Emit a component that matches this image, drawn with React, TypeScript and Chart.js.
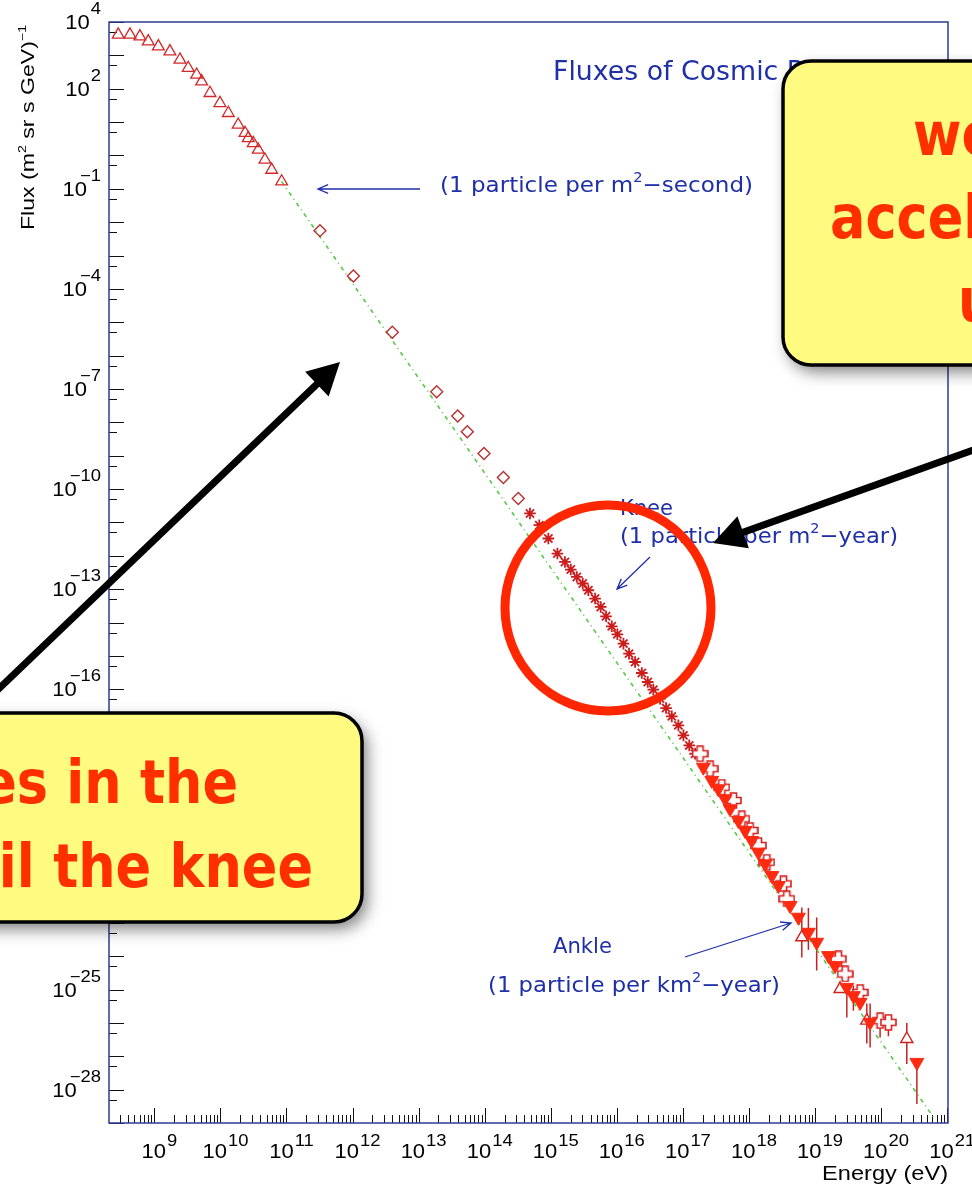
import React, { useEffect, useRef } from 'react';
import { Chart, registerables } from 'chart.js';

Chart.register(...registerables);

// ---- Spectrum data: energy (eV) and flux (m^2 sr s GeV)^-1 ----

// Direct measurements at low energy (open triangles)
const lowEnergyE = [2.84e8, 4.28e8, 6.05e8, 8.09e8, 1.15e9, 1.72e9, 2.44e9, 3.26e9, 4.37e9, 5.2e9, 6.95e9, 9.84e9, 1.32e10, 1.86e10, 2.36e10, 2.64e10, 3.14e10, 3.74e10, 4.72e10, 5.97e10, 8.45e10];
const lowEnergyFlux = [4.16e3, 4.16e3, 3.7e3, 2.62e3, 1.85e3, 1.31e3, 740, 417, 262, 165, 74, 37, 18.6, 8.3, 4.7, 3.3, 2.34, 1.48, 0.74, 0.37, 0.165];

// Balloon / satellite points (open diamonds)
const balloonE = [3.21e11, 1.03e12, 4.0e12, 1.88e13, 3.91e13, 5.46e13, 9.77e13, 1.92e14, 3.23e14];
const balloonFlux = [5.58e-3, 2.44e-4, 5.0e-6, 8.26e-8, 1.54e-8, 5.21e-9, 1.17e-9, 2.23e-10, 5.24e-11];

// Air-shower array around the knee (asterisks)
const kneeE = [4.85e14, 6.71e14, 9.2e14, 1.26e15, 1.64e15, 2.01e15, 2.48e15, 3.05e15, 3.71e15, 4.69e15, 5.71e15, 6.87e15, 8.39e15, 1.02e16, 1.26e16, 1.53e16, 1.89e16, 2.39e16, 2.94e16, 3.57e16, 4.52e16, 5.57e16, 6.79e16, 8.55e16, 1.02e17, 1.25e17, 1.53e17];
const kneeFlux = [1.86e-11, 8.28e-12, 3.3e-12, 1.17e-12, 6.56e-13, 3.88e-13, 2.33e-13, 1.48e-13, 9.29e-14, 5.24e-14, 2.93e-14, 1.54e-14, 7.73e-15, 4.45e-15, 2.34e-15, 1.17e-15, 6.56e-16, 3.07e-16, 1.65e-16, 9.75e-17, 5.24e-17, 2.74e-17, 1.54e-17, 8.28e-18, 4.15e-18, 2.08e-18, 1.17e-18];

// Ground array at the highest energies (filled triangles) with flux errors
const groundE = [2.04e17, 2.74e17, 3.44e17, 4.36e17, 5.18e17, 6.92e17, 8.75e17, 1.1e18, 1.39e18, 1.76e18, 2.22e18, 2.79e18, 4.2e18, 5.61e18, 7.94e18, 1.06e19, 1.6e19, 2.01e19, 3.03e19, 3.81e19, 4.82e19, 6.82e19, 3.48e20];
const groundFlux = [4.63e-19, 1.85e-19, 1.04e-19, 5.22e-20, 2.62e-20, 1.17e-20, 5.85e-21, 2.93e-21, 1.31e-21, 5.86e-22, 2.61e-22, 1.31e-22, 3.29e-23, 1.47e-23, 5.2e-24, 2.61e-24, 1.04e-24, 5.21e-25, 1.16e-25, 6.56e-26, 4.13e-26, 1.04e-26, 6.55e-28];
const groundFluxHi = [null, null, null, null, null, null, null, null, null, null, null, null, null, null, 2.8e-23, 1.45e-23, null, null, 7.59e-26, 1.32e-25, null, 3.8e-26, 8.5e-28];
const groundFluxLo = [null, null, null, null, null, null, null, null, null, null, null, null, null, null, 1.55e-24, 3.72e-25, null, null, 1.45e-26, 2.34e-26, null, 1.82e-27, 3.7e-29];

// Fluorescence detector (open crosses)
const fluorE = [1.82e17, 2.58e17, 3.88e17, 5.82e17, 7.8e17, 1.04e18, 1.39e18, 1.86e18, 3.33e18, 3.74e18, 2.26e19, 2.86e19, 4.82e19, 9.66e19, 1.29e20];
const fluorFlux = [1.17e-18, 4.15e-19, 1.16e-19, 4.65e-20, 1.31e-20, 5.85e-21, 2.07e-21, 6.55e-22, 1.47e-22, 5.22e-23, 8.26e-25, 2.93e-25, 8.22e-26, 1.17e-26, 1.04e-26];
const fluorFluxHi = [null, null, null, null, null, null, null, null, null, null, null, null, null, 1.9e-26, 1.78e-26];
const fluorFluxLo = [null, null, null, null, null, null, null, null, null, null, null, null, null, 3.63e-27, 3.98e-27];

// Highest-energy events (open triangles) with flux errors
const topE = [6.31e18, 2.4e19, 6.08e19, 2.45e20];
const topFlux = [3.68e-24, 1.04e-25, 1.17e-26, 3.29e-27];
const topFluxHi = [2.88e-23, null, 3.8e-26, 1.0e-26];
const topFluxLo = [9.1e-25, null, 2.4e-27, 5.9e-28];

// Reference power law E^-2.84
const powerLawE = [8.45e10, 6.5e20];
const powerLawFlux = [0.165, 1.3e-29];

// Axis labels (powers of ten)
const xLabelExps = [9, 10, 11, 12, 13, 14, 15, 16, 17, 18, 19, 20, 21];
const yLabelExps = [4, 2, -1, -4, -7, -10, -13, -16, -19, -22, -25, -28];

const AXIS_FONT = '"Liberation Sans", Arial, sans-serif';
const NOTE_FONT = '"DejaVu Sans", sans-serif';
const BOX_FONT = '"Comic Sans MS", "DejaVu Sans", sans-serif';
const NOTE_BLUE = '#1f2fa8';
const FRAME_BLUE = '#2f3d92';

type Seg = { t: string; sup?: boolean };

function pts(xs: number[], ys: number[]) {
  return xs.map((x, i) => ({ x, y: ys[i] }));
}

function expText(n: number) {
  return n < 0 ? '\u2212' + Math.abs(n) : String(n);
}

// Draw a run of text with optional superscripts, squeezed to a given width
function drawRich(
  ctx: CanvasRenderingContext2D,
  segs: Seg[],
  x: number,
  y: number,
  size: number,
  family: string,
  color: string,
  targetW?: number,
  align: 'left' | 'right' = 'left',
) {
  const supSize = Math.round(size * 0.62);
  const widths = segs.map((s) => {
    ctx.font = `${s.sup ? supSize : size}px ${family}`;
    return ctx.measureText(s.t).width;
  });
  const natural = widths.reduce((a, b) => a + b, 0);
  const sx = targetW ? targetW / natural : 1;
  const x0 = align === 'right' ? x - natural * sx : x;
  ctx.save();
  ctx.translate(x0, y);
  ctx.scale(sx, 1);
  ctx.fillStyle = color;
  ctx.textBaseline = 'alphabetic';
  ctx.textAlign = 'left';
  let cx = 0;
  segs.forEach((s, i) => {
    ctx.font = `${s.sup ? supSize : size}px ${family}`;
    ctx.fillText(s.t, cx, s.sup ? -size * 0.45 : 0);
    cx += widths[i];
  });
  ctx.restore();
}

function openArrow(ctx: CanvasRenderingContext2D, x1: number, y1: number, x2: number, y2: number, color: string) {
  const a = Math.atan2(y2 - y1, x2 - x1);
  const h = 11;
  ctx.save();
  ctx.strokeStyle = color;
  ctx.lineWidth = 1.3;
  ctx.beginPath();
  ctx.moveTo(x1, y1);
  ctx.lineTo(x2, y2);
  ctx.moveTo(x2 - h * Math.cos(a - 0.4), y2 - h * Math.sin(a - 0.4));
  ctx.lineTo(x2, y2);
  ctx.lineTo(x2 - h * Math.cos(a + 0.4), y2 - h * Math.sin(a + 0.4));
  ctx.stroke();
  ctx.restore();
}

function bigArrow(ctx: CanvasRenderingContext2D, x1: number, y1: number, x2: number, y2: number) {
  const a = Math.atan2(y2 - y1, x2 - x1);
  const len = 32;
  const half = 17;
  const bx = x2 - len * Math.cos(a);
  const by = y2 - len * Math.sin(a);
  ctx.save();
  ctx.strokeStyle = '#000';
  ctx.fillStyle = '#000';
  ctx.lineWidth = 7;
  ctx.beginPath();
  ctx.moveTo(x1, y1);
  ctx.lineTo(bx + 4 * Math.cos(a), by + 4 * Math.sin(a));
  ctx.stroke();
  ctx.beginPath();
  ctx.moveTo(x2, y2);
  ctx.lineTo(bx + half * Math.sin(a), by - half * Math.cos(a));
  ctx.lineTo(bx - half * Math.sin(a), by + half * Math.cos(a));
  ctx.closePath();
  ctx.fill();
  ctx.restore();
}

function roundBox(ctx: CanvasRenderingContext2D, x: number, y: number, w: number, h: number, r: number) {
  ctx.beginPath();
  ctx.moveTo(x + r, y);
  ctx.lineTo(x + w - r, y);
  ctx.arcTo(x + w, y, x + w, y + r, r);
  ctx.lineTo(x + w, y + h - r);
  ctx.arcTo(x + w, y + h, x + w - r, y + h, r);
  ctx.lineTo(x + r, y + h);
  ctx.arcTo(x, y + h, x, y + h - r, r);
  ctx.lineTo(x, y + r);
  ctx.arcTo(x, y, x + r, y, r);
  ctx.closePath();
}

function noteBox(ctx: CanvasRenderingContext2D, x: number, y: number, w: number, h: number) {
  ctx.save();
  roundBox(ctx, x, y, w, h, 28);
  ctx.shadowColor = 'rgba(0,0,0,0.5)';
  ctx.shadowBlur = 16;
  ctx.shadowOffsetX = 5;
  ctx.shadowOffsetY = 7;
  ctx.fillStyle = '#fffb80';
  ctx.fill();
  ctx.shadowColor = 'transparent';
  ctx.lineWidth = 3.5;
  ctx.strokeStyle = '#000';
  ctx.stroke();
  ctx.restore();
}

function boxText(ctx: CanvasRenderingContext2D, t: string, x: number, y: number, align: 'left' | 'right') {
  ctx.save();
  ctx.translate(x, y);
  ctx.scale(1.05, 1.2);
  ctx.font = `bold 50px ${BOX_FONT}`;
  ctx.fillStyle = '#ff2f00';
  ctx.textAlign = align;
  ctx.textBaseline = 'alphabetic';
  ctx.fillText(t, 0, 0);
  ctx.restore();
}

function makeOpenCross(size: number, color: string) {
  const c = document.createElement('canvas');
  c.width = size;
  c.height = size;
  const g = c.getContext('2d')!;
  const m = size / 2;
  const e = size / 2 - 1;
  const a = size * 0.18;
  g.beginPath();
  g.moveTo(m - a, m - e);
  g.lineTo(m + a, m - e);
  g.lineTo(m + a, m - a);
  g.lineTo(m + e, m - a);
  g.lineTo(m + e, m + a);
  g.lineTo(m + a, m + a);
  g.lineTo(m + a, m + e);
  g.lineTo(m - a, m + e);
  g.lineTo(m - a, m + a);
  g.lineTo(m - e, m + a);
  g.lineTo(m - e, m - a);
  g.lineTo(m - a, m - a);
  g.closePath();
  g.fillStyle = '#ffffff';
  g.fill();
  g.strokeStyle = color;
  g.lineWidth = 1.6;
  g.stroke();
  return c;
}

const errorSets: { label: string; hi: (number | null)[]; lo: (number | null)[] }[] = [
  { label: 'ground', hi: groundFluxHi, lo: groundFluxLo },
  { label: 'fluor', hi: fluorFluxHi, lo: fluorFluxLo },
  { label: 'top', hi: topFluxHi, lo: topFluxLo },
];

const paperPlugin = {
  id: 'paper',
  beforeDraw(chart: any) {
    const ctx = chart.ctx as CanvasRenderingContext2D;
    ctx.save();
    ctx.fillStyle = '#ffffff';
    ctx.fillRect(0, 0, chart.width, chart.height);
    ctx.restore();
  },
};

const errorBarPlugin = {
  id: 'errorBars',
  beforeDatasetsDraw(chart: any) {
    const ctx = chart.ctx as CanvasRenderingContext2D;
    const xs = chart.scales.x;
    const ys = chart.scales.y;
    const area = chart.chartArea;
    ctx.save();
    ctx.beginPath();
    ctx.rect(area.left, area.top, area.right - area.left, area.bottom - area.top);
    ctx.clip();
    ctx.strokeStyle = '#c42222';
    ctx.lineWidth = 1.5;
    chart.data.datasets.forEach((ds: any) => {
      const es = errorSets.find((e) => e.label === ds.label);
      if (!es) return;
      ds.data.forEach((p: any, i: number) => {
        const hi = es.hi[i];
        const lo = es.lo[i];
        if (hi == null || lo == null) return;
        const px = xs.getPixelForValue(p.x);
        ctx.beginPath();
        ctx.moveTo(px, ys.getPixelForValue(hi));
        ctx.lineTo(px, ys.getPixelForValue(lo));
        ctx.stroke();
      });
    });
    ctx.restore();
  },
};

const axisPlugin = {
  id: 'rootAxes',
  beforeDatasetsDraw(chart: any) {
    const ctx = chart.ctx as CanvasRenderingContext2D;
    const xs = chart.scales.x;
    const ys = chart.scales.y;
    const { left, right, top, bottom } = chart.chartArea;
    ctx.save();
    // ticks pointing into the frame
    ctx.strokeStyle = '#111';
    ctx.lineWidth = 1;
    ctx.beginPath();
    for (let d = -29; d <= 4; d++) {
      const py = Math.round(ys.getPixelForValue(Math.pow(10, d))) + 0.5;
      ctx.moveTo(left, py);
      ctx.lineTo(left + 15, py);
      const v5 = 5 * Math.pow(10, d);
      if (v5 < 1e4) {
        const pm = Math.round(ys.getPixelForValue(v5)) + 0.5;
        ctx.moveTo(left, pm);
        ctx.lineTo(left + 8, pm);
      }
    }
    for (let d = 8; d <= 21; d++) {
      for (let k = 1; k <= 9; k++) {
        const v = k * Math.pow(10, d);
        if (v < xs.min || v > xs.max * 1.001) continue;
        const px = Math.round(xs.getPixelForValue(v)) + 0.5;
        ctx.moveTo(px, bottom);
        ctx.lineTo(px, bottom - (k === 1 ? 15 : 8));
      }
    }
    ctx.stroke();
    // frame
    ctx.strokeStyle = FRAME_BLUE;
    ctx.lineWidth = 1.5;
    ctx.strokeRect(left, top, right - left, bottom - top);

    // y labels
    ctx.fillStyle = '#000';
    ctx.textBaseline = 'alphabetic';
    ctx.textAlign = 'left';
    yLabelExps.forEach((n) => {
      const py = ys.getPixelForValue(Math.pow(10, n));
      const et = expText(n);
      ctx.font = `16px ${AXIS_FONT}`;
      const ew = ctx.measureText(et).width * 1.15;
      const expLeft = 101 - ew;
      ctx.save();
      ctx.translate(expLeft, py - 8);
      ctx.scale(1.15, 1);
      ctx.fillText(et, 0, 0);
      ctx.restore();
      ctx.font = `20px ${AXIS_FONT}`;
      const tw = ctx.measureText('10').width * 1.1;
      const tenRight = expLeft + (n < 0 ? 7 : -1);
      ctx.save();
      ctx.translate(tenRight - tw, py + 7);
      ctx.scale(1.1, 1);
      ctx.fillText('10', 0, 0);
      ctx.restore();
    });

    // x labels
    xLabelExps.forEach((n) => {
      const px = xs.getPixelForValue(Math.pow(10, n));
      const et = String(n);
      ctx.font = `20px ${AXIS_FONT}`;
      const tw = ctx.measureText('10').width * 1.1;
      ctx.font = `16px ${AXIS_FONT}`;
      const ew = ctx.measureText(et).width * 1.15;
      const total = tw + 1 + ew;
      const l = px + 5 - total / 2;
      ctx.save();
      ctx.font = `20px ${AXIS_FONT}`;
      ctx.translate(l, 1158);
      ctx.scale(1.1, 1);
      ctx.fillText('10', 0, 0);
      ctx.restore();
      ctx.save();
      ctx.font = `16px ${AXIS_FONT}`;
      ctx.translate(l + tw + 1, 1146);
      ctx.scale(1.15, 1);
      ctx.fillText(et, 0, 0);
      ctx.restore();
    });

    // axis titles
    drawRich(ctx, [{ t: 'Energy (eV)' }], right, 1180, 20, AXIS_FONT, '#000', 126, 'right');
    ctx.save();
    ctx.translate(34, 230);
    ctx.rotate(-Math.PI / 2);
    drawRich(
      ctx,
      [{ t: 'Flux (m' }, { t: '2', sup: true }, { t: ' sr s GeV)' }, { t: '\u22121', sup: true }],
      0,
      0,
      18,
      AXIS_FONT,
      '#000',
      205,
    );
    ctx.restore();
    ctx.restore();
  },
};

const overlayPlugin = {
  id: 'notes',
  afterDraw(chart: any) {
    const ctx = chart.ctx as CanvasRenderingContext2D;
    ctx.save();
    // blue captions on the spectrum
    drawRich(ctx, [{ t: 'Fluxes of Cosmic Rays' }], 553, 80, 26, NOTE_FONT, NOTE_BLUE, 298);
    drawRich(ctx, [{ t: '(1 particle per m' }, { t: '2', sup: true }, { t: '\u2212second)' }], 440, 192, 22, NOTE_FONT, NOTE_BLUE, 313);
    openArrow(ctx, 420, 189, 318, 189, NOTE_BLUE);
    drawRich(ctx, [{ t: 'Knee' }], 620, 515, 22, NOTE_FONT, NOTE_BLUE, 53);
    drawRich(ctx, [{ t: '(1 particle per m' }, { t: '2', sup: true }, { t: '\u2212year)' }], 620, 543, 22, NOTE_FONT, NOTE_BLUE, 278);
    openArrow(ctx, 650, 557, 617, 589, NOTE_BLUE);
    drawRich(ctx, [{ t: 'Ankle' }], 553, 953, 22, NOTE_FONT, NOTE_BLUE, 59);
    drawRich(ctx, [{ t: '(1 particle per km' }, { t: '2', sup: true }, { t: '\u2212year)' }], 488, 992, 22, NOTE_FONT, NOTE_BLUE, 292);
    openArrow(ctx, 685, 957, 791, 923, NOTE_BLUE);

    // knee highlight
    ctx.beginPath();
    ctx.arc(608, 608, 103, 0, Math.PI * 2);
    ctx.lineWidth = 9;
    ctx.strokeStyle = '#ff2600';
    ctx.stroke();

    // pointer arrows
    bigArrow(ctx, -60, 745, 340, 362);
    bigArrow(ctx, 1010, 437, 713, 543);

    // callout boxes
    noteBox(ctx, -200, 713, 562, 209);
    boxText(ctx, 'Galactic sources accelerate particles in the', 238, 803, 'right');
    boxText(ctx, 'Milky Way until the knee', 313, 887, 'right');

    noteBox(ctx, 783, 61, 420, 304);
    boxText(ctx, 'we do not know', 913, 155, 'left');
    boxText(ctx, 'accelerators', 830, 238, 'left');
    boxText(ctx, 'up to here', 958, 321, 'left');
    ctx.restore();
  },
};

export default function App() {
  const canvasRef = useRef<HTMLCanvasElement | null>(null);

  useEffect(() => {
    const canvas = canvasRef.current;
    if (!canvas) return;
    const openCross = makeOpenCross(17, '#d42020');
    const chart = new Chart(canvas, {
      type: 'scatter',
      data: {
        datasets: [
          {
            label: 'ground',
            data: pts(groundE, groundFlux),
            pointStyle: 'triangle',
            rotation: 180,
            pointRadius: 8,
            backgroundColor: '#ff2a10',
            borderColor: '#ff2a10',
            borderWidth: 1,
          },
          {
            label: 'fluor',
            data: pts(fluorE, fluorFlux),
            pointStyle: openCross as any,
          },
          {
            label: 'top',
            data: pts(topE, topFlux),
            pointStyle: 'triangle',
            pointRadius: 7,
            backgroundColor: '#ffffff',
            borderColor: '#cc2020',
            borderWidth: 1.4,
          },
          {
            label: 'knee',
            data: pts(kneeE, kneeFlux),
            pointStyle: 'star',
            pointRadius: 5.8,
            backgroundColor: '#cc1c1c',
            borderColor: '#cc1c1c',
            borderWidth: 1.8,
          },
          {
            label: 'balloon',
            data: pts(balloonE, balloonFlux),
            pointStyle: 'rectRot',
            pointRadius: 6,
            backgroundColor: 'rgba(255,255,255,0)',
            borderColor: '#b83030',
            borderWidth: 1.4,
          },
          {
            label: 'direct',
            data: pts(lowEnergyE, lowEnergyFlux),
            pointStyle: 'triangle',
            pointRadius: 6.8,
            backgroundColor: 'rgba(255,255,255,0)',
            borderColor: '#d02828',
            borderWidth: 1.3,
          },
          {
            label: 'powerLaw',
            data: pts(powerLawE, powerLawFlux),
            showLine: true,
            pointRadius: 0,
            borderColor: '#55c844',
            borderWidth: 1.6,
            borderDash: [4, 4, 1, 4],
          },
        ],
      },
      options: {
        animation: false,
        responsive: false,
        devicePixelRatio: 1,
        events: [],
        layout: { padding: { left: 109, top: 22, right: 24, bottom: 62 } },
        scales: {
          x: { type: 'logarithmic', min: 2.06e8, max: 1.03e21, display: false },
          y: { type: 'logarithmic', min: 1e-29, max: 1e4, display: false },
        },
        plugins: { legend: { display: false }, tooltip: { enabled: false } },
      },
      plugins: [paperPlugin, errorBarPlugin, axisPlugin, overlayPlugin],
    });
    return () => chart.destroy();
  }, []);

  return (
    <div style={{ position: 'fixed', left: 0, top: 0, width: 972, height: 1185, overflow: 'hidden', background: '#fff' }}>
      <canvas ref={canvasRef} width={972} height={1185} style={{ width: 972, height: 1185, display: 'block' }} />
    </div>
  );
}
